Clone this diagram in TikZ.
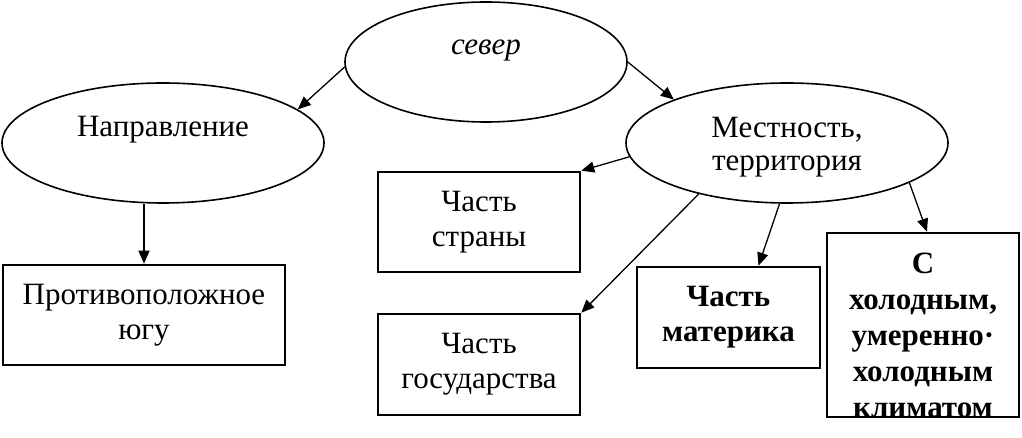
\documentclass[tikz,border=0pt]{standalone}
\usepackage{fontspec}
\setmainfont{Liberation Serif}
\usetikzlibrary{shapes.geometric,arrows.meta,calc}
\begin{document}
\begin{tikzpicture}[x=1pt,y=-1pt,
  ell/.style={draw,ellipse,line width=1.6pt,inner sep=0pt},
  box/.style={draw,rectangle,line width=2.6pt,inner sep=0pt,align=center,
    font=\fontsize{31}{35}\selectfont},
  txt/.style={inner sep=0pt,align=center,font=\fontsize{31}{33}\selectfont},
  arr/.style={line width=1.3pt,-{Triangle[length=13pt,width=11pt]}}]
\useasboundingbox (0,0) rectangle (1022,438);
% ellipses
\node[ell,minimum width=282pt,minimum height=120pt] (sev) at (486,62) {};
\node[txt,font=\fontsize{31}{33}\selectfont\itshape] (sevt) at (486,50) {север};
\node[ell,minimum width=322pt,minimum height=120pt] (napr) at (163,143) {};
\node[txt] (naprt) at (163,130) {Направление};
\node[ell,minimum width=322pt,minimum height=120pt] (mest) at (787,143) {};
\node[txt] (mestt) at (787,147) {Местность,\\территория};
% boxes
\node[box,minimum width=282pt,minimum height=100pt] (prot) at (144,315) {Противоположное\\югу};
\node[box,minimum width=202pt,minimum height=100pt] (str) at (479,222) {Часть\\страны};
\node[box,minimum width=202pt,minimum height=101pt] (gos) at (479,364.5) {Часть\\государства};
\node[box,minimum width=183pt,minimum height=101pt,font=\fontsize{31}{35}\selectfont\bfseries] (mat) at (728.5,317.5) {Часть\\материка};
\node[box,minimum width=192pt,minimum height=184pt] (clim) at (923,325) {};
\node[txt,font=\fontsize{31}{36}\selectfont\bfseries] (climt) at (923,335) {С\\холодным,\\умеренно·\\холодным\\климатом};
% connectors
\draw[arr] (sev.182) -- (napr.14);
\draw[arr] (sev.east) -- (mest.159);
\draw[arr] (napr.south -| prot.north) -- (prot.north);
\draw[arr] (mest.185) -- (str.north east);
\draw[arr] (mest.210) -- (gos.north east);
\draw[arr] (mest.263) -- ([xshift=30pt]mat.north);
\draw[arr] (mest.342) -- ([xshift=4pt]clim.north);
\end{tikzpicture}
\end{document}
